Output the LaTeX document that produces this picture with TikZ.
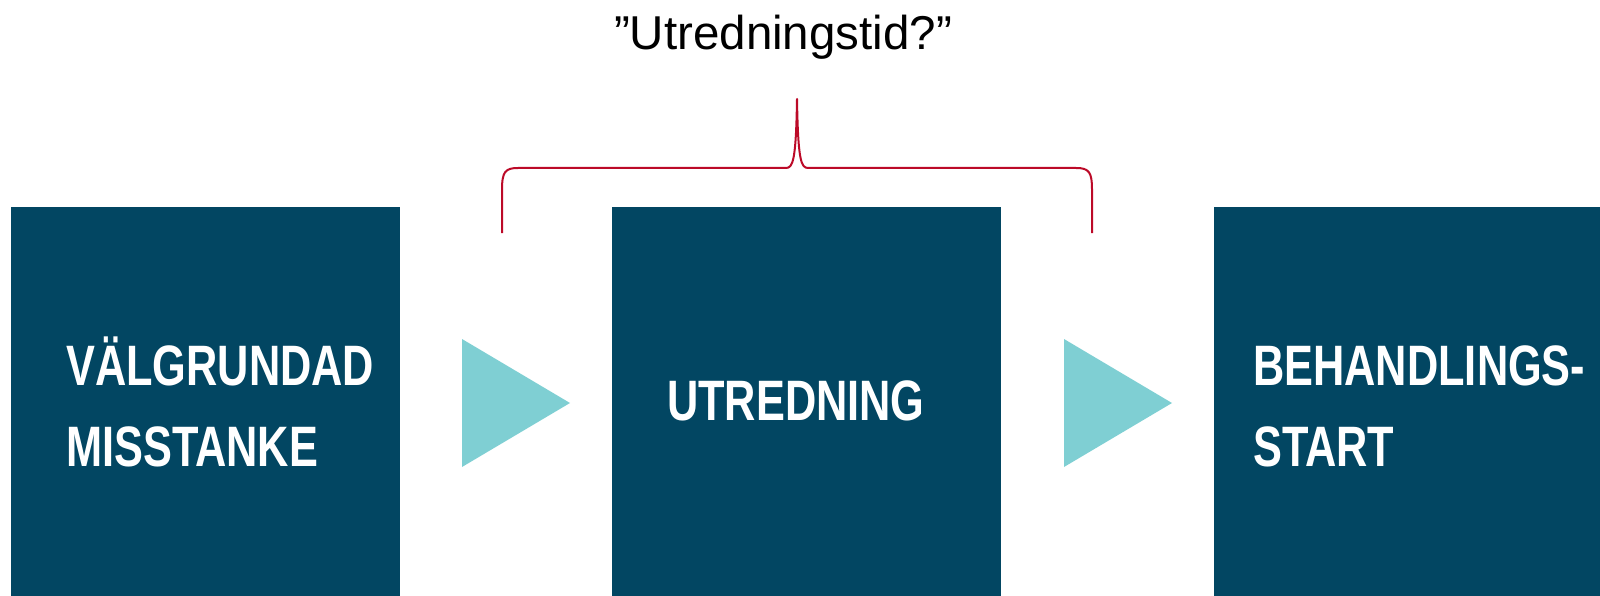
\documentclass[tikz,border=0pt]{standalone}
\usepackage{fontspec}
\setmainfont{Liberation Sans}
\newfontfamily\condfont[FakeStretch=0.76]{Liberation Sans Bold}
\definecolor{boxblue}{RGB}{2,70,98}
\definecolor{teal}{RGB}{127,207,211}
\definecolor{bracered}{RGB}{188,10,40}
\begin{document}
\begin{tikzpicture}[x=1pt,y=-1pt,
  stepbox/.style={fill=boxblue,draw=none,inner sep=0pt,minimum width=389pt,minimum height=389pt,anchor=north west},
  boxtext/.style={anchor=base west,inner sep=0pt,text=white,font=\condfont\fontsize{57pt}{62pt}\selectfont},
  tri/.style={fill=teal,draw=none},
  brace/.style={draw=bracered,line width=2pt,line join=round}]
\useasboundingbox (0,0) rectangle (1600,596);
\node[stepbox] (b1) at (11,207) {};
\node[stepbox] (b2) at (612,207) {};
\node[stepbox] (b3) at (1214,207) {};
\node[boxtext] (t1a) at (66,385) {VÄLGRUNDAD};
\node[boxtext] (t1b) at (66,466) {MISSTANKE};
\node[boxtext] (t2) at (667,420) {UTREDNING};
\node[boxtext] (t3a) at (1253,385) {BEHANDLINGS-};
\node[boxtext] (t3b) at (1253,466) {START};
\fill[tri] (462,339) -- (462,467) -- (570,403) -- cycle;
\fill[tri] (1064,339) -- (1064,467) -- (1172,403) -- cycle;
\coordinate (bl) at (502,233);
\coordinate (br) at (1092,233);
\coordinate (peak) at (797,99);
\draw[brace] (bl) -- (502,190) .. controls (502,172) and (505,168) .. (518,168)
  -- (786,168) .. controls (793,168) and (796,160) .. (peak)
  .. controls (798,160) and (801,168) .. (808,168)
  -- (1076,168) .. controls (1089,168) and (1092,172) .. (1092,190) -- (br);
\node[anchor=base,inner sep=0pt,font=\fontsize{47.5pt}{55pt}\selectfont] (title) at (783,50) {”Utredningstid?”};
\end{tikzpicture}
\end{document}
